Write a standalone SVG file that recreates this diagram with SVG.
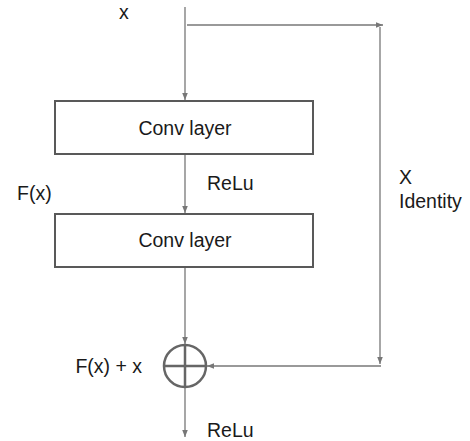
<svg xmlns="http://www.w3.org/2000/svg" width="470" height="441" viewBox="0 0 470 441">
<style>
text{font-family:"Liberation Sans",Arial,sans-serif;font-size:19.5px;fill:#1a1a1a}
.box{fill:#fff;stroke:#595959;stroke-width:2}
.c{fill:none;stroke:#777;stroke-width:1.3}
</style>
<defs>
<marker id="ah" viewBox="0 0 10 10" refX="10" refY="5" markerWidth="7" markerHeight="7" markerUnits="userSpaceOnUse" orient="auto">
<path d="M0,1 L10,5 L0,9 z" fill="#777"/>
</marker>
</defs>
<rect width="470" height="441" fill="#fff"/>
<g id="connectors">
<line class="c" x1="185" y1="7" x2="185" y2="100" marker-end="url(#ah)"/>
<line class="c" x1="187" y1="25" x2="383" y2="25" marker-end="url(#ah)"/>
<line class="c" x1="380" y1="27" x2="380" y2="364" marker-end="url(#ah)"/>
<line class="c" x1="381" y1="366" x2="207" y2="366" marker-end="url(#ah)"/>
<line class="c" x1="185" y1="155" x2="185" y2="213" marker-end="url(#ah)"/>
<line class="c" x1="185" y1="268" x2="185" y2="344" marker-end="url(#ah)"/>
<line class="c" x1="185" y1="388" x2="185" y2="437" marker-end="url(#ah)"/>
</g>
<g id="conv1">
<rect class="box" x="55" y="101" width="258" height="53"/>
<text x="185" y="135" text-anchor="middle">Conv layer</text>
</g>
<g id="conv2">
<rect class="box" x="55" y="214" width="258" height="53"/>
<text x="185" y="247" text-anchor="middle">Conv layer</text>
</g>
<g id="sum">
<circle cx="185" cy="366" r="21" fill="none" stroke="#666" stroke-width="2.5"/>
<line x1="164" y1="366" x2="206" y2="366" stroke="#666" stroke-width="2.5"/>
<line x1="185" y1="345" x2="185" y2="387" stroke="#666" stroke-width="2.5"/>
</g>
<g id="labels">
<text x="119" y="19">x</text>
<text x="207" y="190">ReLu</text>
<text x="17" y="200">F(x)</text>
<text x="399" y="184">X</text>
<text x="399" y="208">Identity</text>
<text x="142" y="373" text-anchor="end">F(x) + x</text>
<text x="207" y="437">ReLu</text>
</g>
</svg>
